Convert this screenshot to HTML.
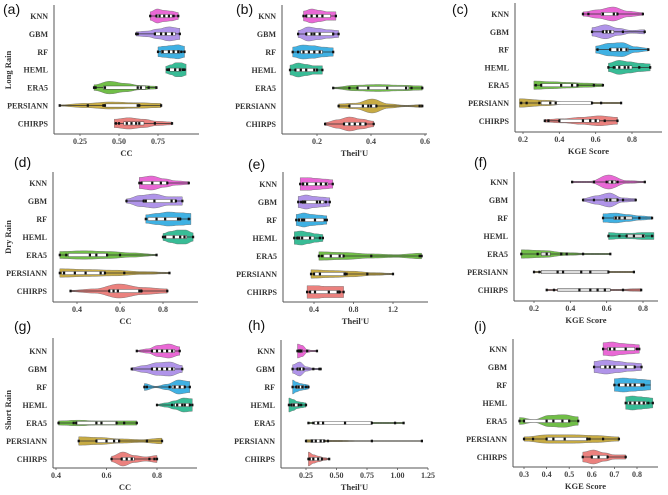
<!DOCTYPE html>
<html><head><meta charset="utf-8"><style>
html,body{margin:0;padding:0;background:#fff}
svg{display:block}
.cat{font-family:"Liberation Serif",serif;font-weight:bold;font-size:8px;fill:#333}
.tk{font-family:"Liberation Serif",serif;font-weight:bold;font-size:8px;fill:#444}
.ttl{font-family:"Liberation Serif",serif;font-weight:bold;font-size:8.5px;fill:#333}
.let{font-family:"Liberation Sans",sans-serif;font-size:14px;fill:#111}
</style></head><body>
<svg id="fig" width="668" height="495" viewBox="0 0 668 495"></svg>
<script>
const categories=["KNN","GBM","RF","HEML","ERA5","PERSIANN","CHIRPS"];
const colors=["#e653cf","#a585e6","#24a6df","#1db387","#5db52f","#bf9f2a","#e86f6c"];

// ---- panel (a) Long Rain CC
const aRange=[[.70,.88],[.61,.89],[.75,.92],[.80,.93],[.34,.74],[.12,.77],[.47,.84]];
const aBox=[[.74,.84],[.73,.86],[.77,.89],[.82,.90],[.40,.67],[.41,.63],[.53,.66]];
const aShape=[[.6,1,.8,.7,.5],[.3,.4,.7,1,.8],[.7,.8,.9,1,.8],[.5,.7,1,1,.8],[.4,.9,.6,.3,.2],[.1,.3,.5,.4,.3],[.6,.8,.6,.3,.2]];
const aPoints=[[.70,.74,.76,.79,.82,.85,.88],[.61,.62,.73,.77,.80,.84,.89],[.75,.78,.82,.85,.88,.90,.92],[.81,.82,.86,.89,.91,.92],[.34,.35,.41,.62,.64,.69,.74],[.12,.30,.40,.41,.62,.63,.77],[.48,.50,.55,.58,.61,.63,.73,.84]];
const aTicks=[0.25,0.5,0.75];
const aTickLabels=["0.25","0.50","0.75"];
// ---- panel (b) Long Rain Theil'U
const bRange=[[.15,.27],[.13,.28],[.11,.26],[.10,.22],[.26,.59],[.28,.59],[.23,.41]];
const bBox=[[.16,.25],[.16,.26],[.14,.22],[.12,.20],[.35,.54],[.32,.42],[.30,.38]];
const bShape=[[.7,1,.8,.6,.6],[.5,1,.8,.6,.5],[.7,1,.9,.7,.6],[.7,1,.8,.6,.6],[.1,.4,.5,.4,.3],[.3,.4,1,.3,.1,.2],[.2,.6,1,.7,.4]];
const bPoints=[[.15,.16,.18,.20,.22,.27],[.13,.16,.18,.19,.21,.26,.28],[.11,.13,.15,.17,.19,.21,.26],[.10,.12,.14,.16,.19,.20,.22],[.26,.32,.35,.39,.46,.53,.55,.59],[.28,.32,.37,.39,.40,.42,.58,.59],[.23,.30,.32,.34,.36,.38,.41]];
const bTicks=[0.2,0.4,0.6];
const bTickLabels=["0.2","0.4","0.6"];
// ---- panel (c) Long Rain KGE
const cRange=[[.53,.86],[.58,.87],[.60,.89],[.67,.90],[.26,.64],[.18,.74],[.32,.72]];
const cBox=[[.63,.72],[.64,.70],[.68,.78],[.71,.80],[.30,.50],[.30,.58],[.40,.62]];
const cShape=[[.3,.6,1,.4,.2],[.6,1,.5,.2,.3],[.5,.9,1,.4,.2],[.6,1,.8,.6,.5],[.6,.5,.4,.3,.2],[.6,.4,.1,.1,.1],[.2,.3,.5,.7,.5]];
const cPoints=[[.53,.56,.64,.70,.72,.86],[.58,.64,.66,.68,.75,.87],[.61,.68,.72,.74,.77,.89],[.67,.70,.73,.76,.78,.84,.90],[.27,.30,.41,.47,.50,.59,.64],[.19,.22,.29,.35,.38,.58,.63,.74],[.32,.34,.40,.53,.57,.60,.65,.72]];
const cTicks=[0.2,0.4,0.6,0.8];
const cTickLabels=["0.2","0.4","0.6","0.8"];
// ---- panel (d) Dry Rain CC
const dRange=[[.69,.92],[.63,.89],[.72,.93],[.80,.94],[.32,.77],[.32,.83],[.37,.82]];
const dBox=[[.70,.82],[.71,.86],[.73,.88],[.81,.91],[.36,.54],[.33,.53],[.55,.70]];
const dShape=[[.8,1,.6,.3,.2],[.3,.8,1,.6,.6],[.6,.8,1,.9,.8],[.5,.8,1,1,.6],[.5,.6,.5,.3,.1],[.6,.5,.4,.2,.1],[.1,.3,1,.5,.3]];
const dPoints=[[.69,.70,.75,.79,.82,.92],[.63,.71,.72,.76,.84,.86,.89],[.72,.77,.81,.87,.88,.92],[.80,.81,.85,.88,.90,.94],[.32,.35,.46,.49,.54,.60,.77],[.32,.34,.39,.44,.51,.53,.62,.83],[.37,.55,.57,.59,.69,.70,.82]];
const dTicks=[0.4,0.6,0.8];
const dTickLabels=["0.4","0.6","0.8"];
// ---- panel (e) Dry Rain Theil'U
const eRange=[[.26,.59],[.24,.56],[.22,.53],[.20,.49],[.45,1.49],[.37,1.20],[.33,.70]];
const eBox=[[.28,.54],[.28,.50],[.24,.50],[.23,.40],[.50,.70],[.40,.72],[.36,.66]];
const eShape=[[.9,.9,.8,.7,.6],[.8,1,.8,.7,.6],[.8,1,.8,.7,.6],[.9,1,.8,.6,.5],[.6,.5,.3,.2,.4],[.6,.5,.4,.2,.1],[.9,.9,.8,.8,.8]];
const ePoints=[[.26,.29,.33,.42,.47,.52,.59],[.24,.27,.29,.31,.43,.46,.52,.56],[.22,.25,.28,.30,.41,.51,.53],[.20,.23,.25,.28,.36,.46,.49],[.45,.48,.57,.66,.70,.98,1.47,1.49],[.37,.40,.46,.71,.73,.94,1.20],[.33,.36,.41,.55,.64,.66,.70]];
const eTicks=[0.4,0.8,1.2];
const eTickLabels=["0.4","0.8","1.2"];
// ---- panel (f) Dry Rain KGE
const fRange=[[.41,.81],[.47,.76],[.58,.85],[.61,.86],[.13,.62],[.20,.75],[.27,.79]];
const fBox=[[.61,.65],[.59,.66],[.64,.74],[.71,.81],[.24,.29],[.24,.61],[.33,.62]];
const fShape=[[.1,.1,1,.2,.1],[.2,.6,1,.3,.2],[.6,.7,.5,.3,.2],[.5,.4,.4,.5,.5],[.6,.5,.2,.1,.1],[.1,.1,.1,.1,.1],[.1,.1,.1,.1,.2]];
const fPoints=[[.41,.53,.60,.63,.66,.81],[.47,.53,.60,.62,.66,.69,.76],[.58,.65,.67,.70,.78,.85],[.61,.67,.71,.75,.80,.85],[.13,.22,.27,.35,.38,.47,.62],[.20,.23,.33,.36,.46,.51,.61,.75],[.27,.31,.45,.51,.55,.59,.69,.79]];
const fTicks=[0.2,0.4,0.6,0.8];
const fTickLabels=["0.2","0.4","0.6","0.8"];
// ---- panel (g) Short Rain CC
const gRange=[[.72,.89],[.70,.90],[.75,.93],[.80,.94],[.41,.72],[.49,.82],[.62,.80]];
const gBox=[[.78,.87],[.78,.87],[.86,.91],[.87,.93],[.48,.64],[.56,.65],[.66,.71]];
const gShape=[[.1,.3,.8,1,.6],[.2,.5,.9,1,.5],[.5,.1,.4,1,.8],[.1,.3,.6,1,.9],[.3,.4,.3,.3,.3],[.6,.5,.3,.2,.4],[.4,1,.5,.3,.5]];
const gPoints=[[.72,.78,.80,.82,.84,.86,.89],[.70,.78,.80,.82,.84,.86,.90],[.75,.76,.85,.87,.89,.91,.93],[.80,.86,.88,.90,.91,.93,.94],[.41,.47,.48,.56,.58,.64,.67,.72],[.49,.56,.60,.63,.65,.76,.82],[.62,.66,.68,.70,.77,.79,.80]];
const gTicks=[0.4,0.6,0.8];
const gTickLabels=["0.4","0.6","0.8"];
// ---- panel (h) Short Rain Theil'U
const hRange=[[.18,.34],[.14,.37],[.14,.27],[.11,.25],[.27,1.05],[.25,1.20],[.27,.44]];
const hBox=[[.19,.22],[.18,.23],[.17,.23],[.13,.19],[.32,.79],[.29,.40],[.28,.38]];
const hShape=[[1,.8,.2,.1,.1],[.6,1,.3,.1,.1],[1,.7,.5,.4,.3],[1,.8,.5,.4,.3],[.1,.1,.1,.1,.1],[.2,.1,.05,.05,.05],[1,.6,.4,.2,.1]];
const hPoints=[[.18,.19,.20,.21,.26,.34],[.14,.18,.20,.23,.31,.36,.37],[.14,.17,.19,.22,.25,.27],[.11,.13,.15,.19,.21,.25],[.27,.31,.35,.39,.57,.79,.98,1.05],[.25,.30,.33,.37,.40,.43,.79,1.20],[.27,.28,.31,.35,.38,.44]];
const hTicks=[0.25,0.5,0.75,1.0,1.25];
const hTickLabels=["0.25","0.50","0.75","1.00","1.25"];
// ---- panel (i) Short Rain KGE
const iRange=[[.65,.81],[.61,.82],[.70,.86],[.75,.87],[.28,.54],[.30,.72],[.56,.75]];
const iBox=[[.67,.79],[.64,.79],[.72,.83],[.76,.84],[.30,.50],[.40,.58],[.60,.67]];
const iShape=[[.9,1,.8,.7,.6],[.8,1,.8,.6,.5],[.9,1,.9,.8,.7],[.9,1,.9,.8,.7],[.5,.2,.8,.9,.6],[.3,.6,.6,.5,.3],[.7,1,.6,.3,.3]];
const iPoints=[[.65,.68,.70,.75,.80,.81],[.61,.66,.68,.70,.75,.79,.82],[.70,.72,.75,.77,.79,.82,.83],[.75,.77,.79,.81,.83,.85,.87],[.28,.30,.40,.43,.47,.50,.54],[.30,.34,.40,.43,.48,.58,.59,.65,.72],[.56,.60,.63,.67,.75]];
const iTicks=[0.3,0.4,0.5,0.6,0.7,0.8];
const iTickLabels=["0.3","0.4","0.5","0.6","0.7","0.8"];

const NS="http://www.w3.org/2000/svg";
const svg=document.getElementById("fig");
function mk(tag,attrs,parent){const e=document.createElementNS(NS,tag);for(const k in attrs)e.setAttribute(k,attrs[k]);(parent||svg).appendChild(e);return e;}

// layout (pixel geometry only)
const panels=[
 {id:"a",letter:"(a)",lx:3,ly:14,ax:54,top:5,bot:134,right:199,t1:.25,p1:80,t2:.75,p2:158,y0:16,dy:17.9,xl:"CC",ylab:"Long Rain",yly:70,rng:aRange,box:aBox,shape:aShape,pts:aPoints,ticks:aTicks,tl:aTickLabels,gray:false},
 {id:"b",letter:"(b)",lx:236,ly:14,ax:282,top:5,bot:134,right:427,t1:.2,p1:317,t2:.6,p2:425,y0:16,dy:18,xl:"Theil'U",rng:bRange,box:bBox,shape:bShape,pts:bPoints,ticks:bTicks,tl:bTickLabels},
 {id:"c",letter:"(c)",lx:452,ly:14,ax:515,top:3,bot:132,right:662,t1:.2,p1:523,t2:.8,p2:632,y0:14,dy:17.8,xl:"KGE Score",rng:cRange,box:cBox,shape:cShape,pts:cPoints,ticks:cTicks,tl:cTickLabels},
 {id:"d",letter:"(d)",lx:14,ly:167,ax:53,top:172,bot:302,right:198,t1:.4,p1:77,t2:.8,p2:163,y0:183,dy:18,xl:"CC",ylab:"Dry Rain",yly:237,rng:dRange,box:dBox,shape:dShape,pts:dPoints,ticks:dTicks,tl:dTickLabels},
 {id:"e",letter:"(e)",lx:248,ly:169,ax:283,top:172,bot:302,right:428,t1:.4,p1:314,t2:1.2,p2:393,y0:184,dy:18,xl:"Theil'U",rng:eRange,box:eBox,shape:eShape,pts:ePoints,ticks:eTicks,tl:eTickLabels},
 {id:"f",letter:"(f)",lx:474,ly:167,ax:514,top:172,bot:301,right:658,t1:.2,p1:534,t2:.8,p2:643,y0:182,dy:18,xl:"KGE Score",rng:fRange,box:fBox,shape:fShape,pts:fPoints,ticks:fTicks,tl:fTickLabels,gray:true},
 {id:"g",letter:"(g)",lx:14,ly:331,ax:53,top:338,bot:468,right:197,t1:.4,p1:56,t2:.8,p2:157,y0:351,dy:18,xl:"CC",ylab:"Short Rain",yly:410,rng:gRange,box:gBox,shape:gShape,pts:gPoints,ticks:gTicks,tl:gTickLabels},
 {id:"h",letter:"(h)",lx:248,ly:330,ax:281,top:340,bot:468,right:428,t1:.25,p1:306,t2:1.25,p2:428,y0:351,dy:18,xl:"Theil'U",rng:hRange,box:hBox,shape:hShape,pts:hPoints,ticks:hTicks,tl:hTickLabels},
 {id:"i",letter:"(i)",lx:474,ly:331,ax:513,top:339,bot:467,right:658,t1:.3,p1:524,t2:.8,p2:637,y0:349,dy:18,xl:"KGE Score",rng:iRange,box:iBox,shape:iShape,pts:iPoints,ticks:iTicks,tl:iTickLabels}
];

panels.forEach(P=>{
  const g=mk("g",{});
  
  
  const X=v=>P.p1+(v-P.t1)*(P.p2-P.p1)/(P.t2-P.t1);
  const let_=mk("text",{x:P.lx,y:P.ly,class:"let"},g);let_.textContent=P.letter;
  
  
  // axes
  const ya=mk("line",{x1:P.ax,y1:P.top,x2:P.ax,y2:P.bot,stroke:"#555","stroke-width":1},g);
  
  
  const xa=mk("line",{x1:P.ax,y1:P.bot,x2:P.right,y2:P.bot,stroke:"#555","stroke-width":1},g);
  
  
  P.ticks.forEach((t,k)=>{
    const x=X(t);
    mk("line",{x1:x,y1:P.bot,x2:x,y2:P.bot+2,stroke:"#555","stroke-width":.8},g);
    const tt=mk("text",{x:x,y:P.bot+10,class:"tk","text-anchor":"middle"},g);tt.textContent=P.tl[k];
    
    
  });
  const xt=mk("text",{x:(P.ax+P.right)/2,y:P.bot+22,class:"ttl","text-anchor":"middle"},g);xt.textContent=P.xl;
  
  
  if(P.ylab){
    const yt=mk("text",{x:0,y:0,class:"ttl","text-anchor":"middle",transform:`translate(11,${P.yly}) rotate(-90)`},g);yt.textContent=P.ylab;
    
    
  }
  categories.forEach((c,r)=>{
    const y=P.y0+r*P.dy;
    const cl=mk("text",{x:P.ax-6,y:y+3,class:"cat","text-anchor":"end"},g);cl.textContent=c;
    
    
    const [lo,hi]=P.rng[r];const sh=P.shape[r];
    const N=40,H=7;
    const top=[],bot=[];
    for(let s=0;s<=N;s++){
      const f=s/N;const pos=f*(sh.length-1);const k=Math.min(Math.floor(pos),sh.length-2);const u=pos-k;
      const uu=(1-Math.cos(u*Math.PI))/2;
      const w=(sh[k]*(1-uu)+sh[k+1]*uu)*H;
      const x=X(lo+(hi-lo)*f);
      top.push(x.toFixed(1)+","+(y-w).toFixed(1));bot.unshift(x.toFixed(1)+","+(y+w).toFixed(1));
    }
    const vio=mk("polygon",{points:top.concat(bot).join(" "),fill:colors[r],"fill-opacity":.88,stroke:"#666","stroke-width":.4},g);
    
    
    mk("line",{x1:X(lo),y1:y,x2:X(hi),y2:y,stroke:"#333","stroke-width":.8},g);
    const [q1,q3]=P.box[r];
    const bx=mk("rect",{x:X(q1),y:y-1.6,width:Math.max(1,X(q3)-X(q1)),height:3.2,fill:P.gray?"#ddd":"#fff",stroke:"#333","stroke-width":.4},g);
    
    
    P.pts[r].forEach(v=>{
      const d=mk("rect",{x:X(v)-1.1,y:y-1.3,width:2.2,height:2.6,fill:"#111"},g);
      
      
    });
  });
});
</script>
</body></html>
